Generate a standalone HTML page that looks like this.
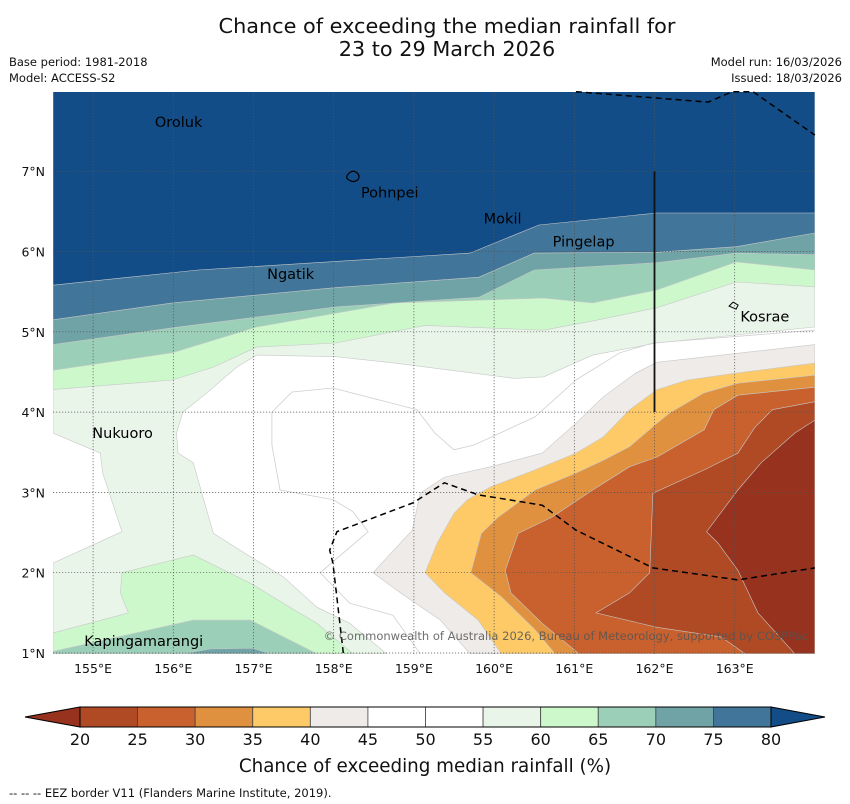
<!DOCTYPE html>
<html><head><meta charset="utf-8"><style>
html,body{margin:0;padding:0;background:#fff;}
svg{display:block;font-family:"DejaVu Sans","Liberation Sans",sans-serif;}
</style></head><body>
<svg id="chart" width="850" height="804" viewBox="0 0 850 804" xmlns="http://www.w3.org/2000/svg">
<text x="447" y="33" font-size="20.8" text-anchor="middle" fill="#111">Chance of exceeding the median rainfall for</text>
<text x="447" y="56" font-size="20.8" text-anchor="middle" fill="#111">23 to 29 March 2026</text>
<text x="9" y="66" font-size="11.5" fill="#111">Base period: 1981-2018</text>
<text x="9" y="82" font-size="11.5" fill="#111">Model: ACCESS-S2</text>
<text x="842" y="66" font-size="11.5" text-anchor="end" fill="#111">Model run: 16/03/2026</text>
<text x="842" y="82" font-size="11.5" text-anchor="end" fill="#111">Issued: 18/03/2026</text>
<defs><clipPath id="mapclip"><rect x="53" y="92" width="762" height="562"/></clipPath></defs>
<g id="map" clip-path="url(#mapclip)"><rect x="53" y="92" width="762" height="562" fill="#ffffff"/></g>
<g id="overlay"></g>
<g id="cbar"></g>
<text x="425" y="772" font-size="18.3" text-anchor="middle" fill="#111">Chance of exceeding median rainfall (%)</text>
<text x="9" y="797" font-size="11.5" fill="#111">--  --  -- EEZ border V11 (Flanders Marine Institute, 2019).</text>
</svg>
<script>
// ---- data ----
const lonTicks = [155,156,157,158,159,160,161,162,163];
const latTicks = [1,2,3,4,5,6,7];
const cbLevels = [20,25,30,35,40,45,50,55,60,65,70,75,80];
const cbColors = ["#b04a25","#c8612e","#e0913f","#fdca67","#eeebe8","#ffffff","#ffffff","#e9f5e9","#ccf8cc","#9ccfb8","#6fa3a6","#41769a"];
const cbLowColor = "#96321d";
const cbHighColor = "#134d87";
const b60Lon = [154.5,155.99,156.50,157.04,158.03,159.14,160.62,161.30,162.03,163.02,164.0];
const b60Lat = [4.28,4.40,4.56,4.81,4.86,5.08,5.02,5.15,5.30,5.62,5.56];
const b65Lon = [154.5,155.99,157.04,158.76,160.62,161.23,162.03,163.02,164.0];
const b65Lat = [4.52,4.74,5.06,5.36,5.42,5.36,5.52,5.87,5.77];
const b70Lon = [154.5,155.99,158.03,159.81,160.50,162.03,163.02,164.0];
const b70Lat = [4.84,5.05,5.31,5.43,5.77,5.86,5.98,5.96];
const b75Lon = [154.5,155.99,158.03,159.81,160.50,162.03,163.02,164.0];
const b75Lat = [5.15,5.36,5.55,5.68,5.98,5.99,6.06,6.23];
const b80Lon = [154.5,156.31,159.70,160.56,162.03,164.0];
const b80Lat = [5.58,5.77,5.98,6.33,6.48,6.48];
const r55Lon = [154.5,164.0,164.0,162.03,161.23,160.62,160.25,158.76,158.03,157.04,156.79,156.42,156.12,156.04,156.06,156.25,156.37,156.50,156.96,157.37,157.79,158.20,158.66,154.5,154.5,155.36,155.12,155.09,154.5];
const r55Lat = [8.0,8.0,5.06,4.86,4.71,4.44,4.42,4.61,4.69,4.71,4.56,4.24,4.00,3.74,3.49,3.37,2.94,2.49,2.20,1.95,1.57,1.37,0.99,0.99,2.12,2.51,3.24,3.49,3.74];
const s60Lon = [154.5,155.44,155.34,155.36,156.25,156.96,157.37,157.79,158.24,154.5];
const s60Lat = [1.25,1.50,1.75,2.00,2.22,1.87,1.62,1.37,0.99,0.99];
const s65Lon = [154.5,156.25,156.96,157.79,154.5];
const s65Lat = [1.02,1.41,1.41,0.99,0.99];
const s70Lon = [156.12,156.46,156.99,157.21];
const s70Lat = [0.99,1.05,1.06,0.99];
const d45Lon = [164.0,162.03,161.77,161.36,161.02,160.60,159.96,159.38,159.08,158.98,158.49,158.83,159.33,159.70,164.0];
const d45Lat = [4.84,4.62,4.49,4.19,3.86,3.49,3.32,3.19,2.99,2.53,2.00,1.75,1.41,0.99,0.99];
const d40Lon = [164.0,163.04,162.41,162.03,161.69,161.36,161.02,160.51,159.96,159.67,159.50,159.29,159.14,159.38,159.80,160.09,164.0];
const d40Lat = [4.61,4.49,4.40,4.28,4.03,3.69,3.49,3.28,3.07,2.91,2.74,2.37,2.00,1.75,1.41,0.99,0.99];
const d35Lon = [164.0,163.04,162.62,162.19,162.03,161.69,161.36,161.02,160.51,160.05,159.84,159.71,160.09,160.51,160.76,164.0];
const d35Lat = [4.46,4.36,4.24,3.99,3.86,3.57,3.40,3.24,3.03,2.69,2.49,2.00,1.70,1.29,0.99,0.99];
const d30Lon = [164.0,163.04,162.74,162.62,162.03,161.69,161.23,160.72,160.30,160.14,160.21,160.60,161.06,164.0];
const d30Lat = [4.31,4.21,4.03,3.78,3.44,3.32,3.03,2.69,2.49,2.03,1.75,1.37,0.99,0.99];
const d25Lon = [164.0,163.47,163.25,163.04,162.62,161.98,161.94,161.69,161.27,162.03,162.83,163.13,164.0];
const d25Lat = [4.13,4.03,3.81,3.49,3.28,2.99,2.00,1.75,1.50,1.32,1.20,0.99,0.99];
const d20Lon = [164.0,163.75,163.33,163.04,162.65,162.79,163.04,163.29,163.75,164.0];
const d20Lat = [3.90,3.74,3.37,3.03,2.51,2.37,2.03,1.50,0.99,0.99];
const cAlon = [157.23,157.48,157.99,159.04,159.26,159.50,159.75,160.51,161.02,161.57,161.98,164.0];
const cAlat = [4.00,4.25,4.30,4.03,3.74,3.53,3.59,3.94,4.40,4.74,4.86,5.02];
const cBlon = [157.23,157.23,157.33,157.99,158.24,158.43,157.83,158.20,158.74,159.08];
const cBlat = [4.00,3.59,3.03,2.91,2.76,2.51,2.00,1.62,1.47,0.99];
const eez1Lon = [158.12,157.99,157.95,158.04,158.99,159.38,159.80,160.60,161.02,161.98,163.04,164.0];
const eez1Lat = [1.0,2.12,2.28,2.51,2.87,3.12,2.97,2.84,2.53,2.06,1.91,2.06];
const eez2Lon = [161.02,162.67,162.97,163.23,164.0];
const eez2Lat = [7.99,7.86,7.99,7.99,7.45];
const placeNames = ["Oroluk","Pohnpei","Mokil","Pingelap","Ngatik","Kosrae","Nukuoro","Kapingamarangi"];
const placeLon = [155.77,158.34,159.87,160.73,157.17,163.07,154.99,154.89];
const placeLat = [7.55,6.67,6.35,6.06,5.66,5.13,3.68,1.09];

// ---- axes ----
const X0=53, X1=815, Y0=92, Y1=654;
const xOf = lon => 53 + (lon-154.5)*80.2;
const yOf = lat => 653 - (lat-1)*80.3;
const NS="http://www.w3.org/2000/svg";
function mk(tag, attrs, parent){const e=document.createElementNS(NS,tag);for(const k in attrs)e.setAttribute(k,attrs[k]);parent.appendChild(e);return e;}
const map=document.getElementById('map'), ov=document.getElementById('overlay'), cb=document.getElementById('cbar');
function pts(lons,lats){return lons.map((l,i)=>xOf(l).toFixed(1)+','+yOf(lats[i]).toFixed(1)).join(' ');}
function topRegion(lons,lats){return xOf(lons[0]).toFixed(1)+','+yOf(8.05).toFixed(1)+' '+pts(lons,lats)+' '+xOf(lons[lons.length-1]).toFixed(1)+','+yOf(8.05).toFixed(1);}
function poly(p,fill,name){const e=mk('polygon',{points:p,fill:fill,stroke:'#c8c8c8','stroke-width':0.6},map);


return e;}
poly(pts(r55Lon,r55Lat),"#e9f5e9","region-55-60");
poly(topRegion(b60Lon,b60Lat),"#ccf8cc","region-60-65");
poly(topRegion(b65Lon,b65Lat),"#9ccfb8","region-65-70");
poly(topRegion(b70Lon,b70Lat),"#6fa3a6","region-70-75");
poly(topRegion(b75Lon,b75Lat),"#41769a","region-75-80");
poly(topRegion(b80Lon,b80Lat),"#134d87","region-above-80");
poly(pts(s60Lon,s60Lat),"#ccf8cc","region-sw-60-65");
poly(pts(s65Lon,s65Lat),"#9ccfb8","region-sw-65-70");
poly(pts(s70Lon,s70Lat),"#6fa3a6","region-sw-70-75");
poly(pts(d45Lon,d45Lat),"#eeebe8","region-40-45");
poly(pts(d40Lon,d40Lat),"#fdca67","region-35-40");
poly(pts(d35Lon,d35Lat),"#e0913f","region-30-35");
poly(pts(d30Lon,d30Lat),"#c8612e","region-25-30");
poly(pts(d25Lon,d25Lat),"#b04a25","region-20-25");
poly(pts(d20Lon,d20Lat),"#96321d","region-below-20");
[[cAlon,cAlat,'contour-line-a'],[cBlon,cBlat,'contour-line-b']].forEach(c=>{
 const e=mk('polyline',{points:pts(c[0],c[1]),fill:'none',stroke:'#cfcfcf','stroke-width':0.8},map);
 
 
});
lonTicks.forEach(l=>{const e=mk('line',{x1:xOf(l),x2:xOf(l),y1:Y0,y2:Y1,stroke:'#555','stroke-width':0.7,'stroke-dasharray':'1.2,1.8'},ov);
 
 
 const t=mk('text',{x:xOf(l),y:673,'font-size':12.5,'text-anchor':'middle',fill:'#111'},ov);t.textContent=l+'°E';
 
 
});
latTicks.forEach(l=>{const e=mk('line',{x1:X0,x2:X1,y1:yOf(l),y2:yOf(l),stroke:'#555','stroke-width':0.7,'stroke-dasharray':'1.2,1.8'},ov);
 
 
 const t=mk('text',{x:45,y:yOf(l)+5,'font-size':12.5,'text-anchor':'end',fill:'#111'},ov);t.textContent=l+'°N';
 
 
});
[[eez1Lon,eez1Lat,'eez-border-south'],[eez2Lon,eez2Lat,'eez-border-north']].forEach(c=>{
 const e=mk('polyline',{points:pts(c[0],c[1]),fill:'none',stroke:'#000','stroke-width':1.5,'stroke-dasharray':'6,4'},ov);
 
 
});
const vl=mk('line',{x1:xOf(162),x2:xOf(162),y1:yOf(7),y2:yOf(4),stroke:'#111','stroke-width':1.8},ov);


const pohn=mk('path',{d:`M${xOf(158.17)},${yOf(6.95)} q4,-6 9,-3 q4,3 2,7 q-4,4 -9,1 q-4,-2 -2,-5 z`,fill:'none',stroke:'#000','stroke-width':1.2},ov);


const kos=mk('path',{d:`M${xOf(162.93)},${yOf(5.32)} l4,-4 l5,3 l-2,4 z`,fill:'none',stroke:'#000','stroke-width':1},ov);


placeNames.forEach((n,i)=>{
 const t=mk('text',{x:xOf(placeLon[i]),y:yOf(placeLat[i]),'font-size':14.5,fill:'#000'},ov);t.textContent=n;
 
 
});
const cp=mk('text',{x:808,y:640,'font-size':11.5,'text-anchor':'end',fill:'#555','fill-opacity':0.85},ov);
cp.textContent='© Commonwealth of Australia 2026, Bureau of Meteorology, supported by COSPPac';


const cbX0=80, cbX1=771, cbY=707, cbH=20;
const cbScale = v => cbX0 + (v-cbLevels[0])/(cbLevels[cbLevels.length-1]-cbLevels[0])*(cbX1-cbX0);
const lt=mk('polygon',{points:`25,${cbY+cbH/2} ${cbX0},${cbY} ${cbX0},${cbY+cbH}`,fill:cbLowColor,stroke:'#000','stroke-width':1},cb);


const rt=mk('polygon',{points:`825,${cbY+cbH/2} ${cbX1},${cbY} ${cbX1},${cbY+cbH}`,fill:cbHighColor,stroke:'#000','stroke-width':1},cb);


cbColors.forEach((c,i)=>{
 const r=mk('rect',{x:cbScale(cbLevels[i]),y:cbY,width:cbScale(cbLevels[i+1])-cbScale(cbLevels[i]),height:cbH,fill:c,stroke:'#444','stroke-width':0.8},cb);
 
 
});
const ob=mk('rect',{x:cbX0,y:cbY,width:cbX1-cbX0,height:cbH,fill:'none',stroke:'#000','stroke-width':1},cb);


cbLevels.forEach(v=>{
 const t=mk('text',{x:cbScale(v),y:745,'font-size':16,'text-anchor':'middle',fill:'#111'},cb);t.textContent=v;
 
 
});
</script>
</body></html>
